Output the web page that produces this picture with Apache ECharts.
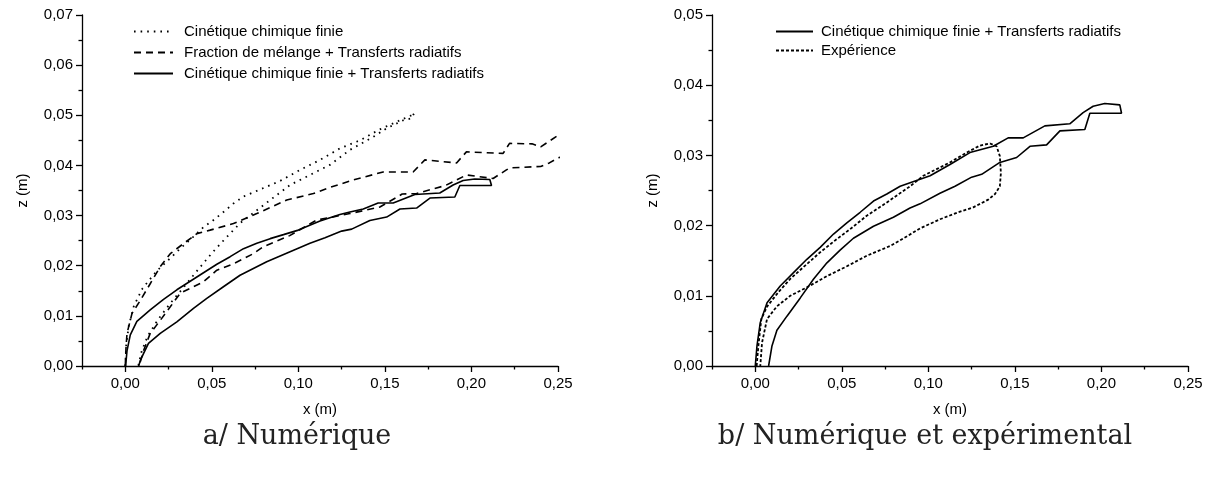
<!DOCTYPE html>
<html>
<head>
<meta charset="utf-8">
<script src="https://cdn.jsdelivr.net/npm/echarts@6/dist/echarts.min.js"></script>
<style>
html,body{margin:0;padding:0;background:#fff;}
#c{width:1213px;height:478px;}
</style>
</head>
<body>
<div id="c"></div>
<script>
// ---- tick labels ----
var xMajorTicks = [0, 0.05, 0.10, 0.15, 0.20, 0.25];
var xMinorTicks = [-0.025, 0.025, 0.075, 0.125, 0.175, 0.225];

// ---- legend names ----
var nameFinite = 'Cinétique chimique finie';
var nameMixing = 'Fraction de mélange + Transferts radiatifs';
var nameFiniteRad = 'Cinétique chimique finie + Transferts radiatifs';
var nameExp = 'Expérience';

// ---- a/ contour: finite chemistry + radiation [x (m), z (m)] ----
var finiteRadContourA = [
  [0.0002,0],[0.001,0.003],[0.0029,0.0062],[0.0067,0.0089],[0.0144,0.0112],[0.0221,0.0133],
  [0.0298,0.0152],[0.0375,0.0169],[0.0452,0.0186],[0.0529,0.0203],[0.0606,0.0218],[0.0683,0.0234],
  [0.076,0.0245],[0.0837,0.0254],[0.0914,0.0262],[0.100,0.0271],[0.1125,0.0289],[0.124,0.0302],
  [0.1298,0.0307],[0.1375,0.0313],[0.1461,0.0325],[0.1548,0.0325],[0.1673,0.0342],[0.1817,0.0345],
  [0.1894,0.0361],[0.1952,0.037],[0.2019,0.0373],[0.2106,0.0372],[0.2116,0.036],
  [0.1933,0.036],[0.1904,0.0337],[0.176,0.0335],[0.1683,0.0315],[0.1587,0.0313],[0.151,0.0297],
  [0.1413,0.029],[0.1308,0.0273],[0.125,0.0269],[0.1154,0.0256],[0.1067,0.0245],[0.0952,0.0228],
  [0.0817,0.0208],[0.0663,0.0181],[0.0567,0.0158],[0.0471,0.0135],[0.0394,0.0115],[0.0298,0.0088],
  [0.0202,0.0065],[0.0134,0.0045],[0.0106,0.0025],[0.0087,0.0011],[0.0077,0]
];

// ---- a/ contour: finite chemistry (no radiation) ----
var finiteContour = [
  [0,0],[0.0005,0.004],[0.002,0.008],[0.005,0.012],[0.01,0.0155],[0.0183,0.019],[0.026,0.0215],
  [0.0317,0.0234],[0.0394,0.0258],[0.0452,0.0277],[0.051,0.0291],[0.0567,0.0307],[0.0625,0.0324],
  [0.0683,0.0338],[0.0779,0.0352],[0.0894,0.0369],[0.101,0.0391],[0.1125,0.0411],[0.124,0.0434],
  [0.1356,0.045],[0.1471,0.0472],[0.1587,0.049],[0.1654,0.05],[0.167,0.0505],
  [0.1654,0.0494],[0.1606,0.049],[0.151,0.0474],[0.1433,0.0457],[0.1298,0.0431],[0.1182,0.0401],
  [0.1067,0.0381],[0.0952,0.0361],[0.0837,0.0331],[0.075,0.0308],[0.0664,0.0285],[0.058,0.0255],
  [0.05,0.0225],[0.042,0.0192],[0.034,0.0158],[0.026,0.0125],[0.019,0.0093],[0.013,0.006],
  [0.0095,0.003],[0.0075,0]
];

// ---- a/ contour: mixture fraction + radiation ----
var mixingContour = [
  [0,0],[0.0004,0.0035],[0.001,0.0065],[0.0039,0.0105],[0.0087,0.0131],[0.0144,0.0164],[0.0202,0.0198],
  [0.026,0.0224],[0.0336,0.0244],[0.0414,0.0264],[0.049,0.0271],[0.0625,0.0284],[0.076,0.0304],
  [0.0933,0.0331],[0.1087,0.0344],[0.1164,0.0354],[0.1317,0.0371],[0.149,0.0387],[0.1663,0.0387],
  [0.1731,0.0411],[0.1914,0.0405],[0.1971,0.0427],[0.2183,0.0424],[0.222,0.0444],[0.235,0.0443],
  [0.24,0.0437],[0.25,0.046],[0.26,0.047],
  [0.26,0.0425],[0.25,0.0415],[0.245,0.0405],[0.24,0.0398],[0.222,0.0395],[0.2202,0.0391],
  [0.2125,0.0374],[0.1971,0.0381],[0.185,0.036],[0.1683,0.0344],[0.16,0.0343],[0.1471,0.0317],
  [0.1298,0.0304],[0.1106,0.0291],[0.095,0.026],[0.0798,0.0238],[0.074,0.0224],[0.0625,0.0204],
  [0.0529,0.0191],[0.0452,0.0168],[0.0317,0.0145],[0.026,0.0118],[0.0202,0.0091],[0.0144,0.0065],
  [0.0105,0.003],[0.008,0]
];

// ---- b/ contour: finite chemistry + radiation ----
var finiteRadContourB = [
  [0,0],[0.001,0.0029],[0.0029,0.0062],[0.0068,0.009],[0.0144,0.0114],[0.0221,0.0133],
  [0.0298,0.0152],[0.0375,0.0169],[0.0452,0.0188],[0.0529,0.0204],[0.0606,0.0219],[0.0683,0.0235],
  [0.076,0.0245],[0.0837,0.0256],[0.101,0.0271],[0.1125,0.0287],[0.124,0.0304],[0.1375,0.0313],
  [0.1461,0.0325],[0.1548,0.0325],[0.1673,0.0342],[0.1817,0.0345],[0.1894,0.0361],[0.1952,0.037],
  [0.2019,0.0374],[0.2106,0.0372],[0.2116,0.036],
  [0.1933,0.036],[0.1904,0.0337],[0.176,0.0335],[0.1683,0.0315],[0.1587,0.0313],[0.151,0.0297],
  [0.1413,0.029],[0.1308,0.0273],[0.125,0.0269],[0.1154,0.0256],[0.1067,0.0246],[0.0952,0.0231],
  [0.0894,0.0225],[0.0798,0.0212],[0.0683,0.0199],[0.0567,0.0182],[0.049,0.0165],[0.0414,0.0147],
  [0.0337,0.0124],[0.026,0.0097],[0.0183,0.0071],[0.0125,0.0051],[0.0096,0.0028],[0.0077,0]
];

// ---- b/ contour: experiment ----
var expContour = [
  [0.0008,0],[0.0018,0.0029],[0.0035,0.0067],[0.0069,0.0085],[0.0133,0.0105],[0.0202,0.0124],
  [0.0288,0.0143],[0.0375,0.0162],[0.0462,0.0179],[0.0548,0.0195],[0.0644,0.0214],[0.076,0.0233],
  [0.0894,0.0256],[0.0971,0.0271],[0.1125,0.029],[0.1221,0.0304],[0.1298,0.0314],[0.1356,0.0317],
  [0.1394,0.0313],[0.1413,0.0299],[0.1419,0.0275],[0.1413,0.0256],[0.1385,0.0245],[0.1346,0.0237],
  [0.1259,0.0226],[0.1173,0.0219],[0.1067,0.0209],[0.0952,0.0196],[0.0837,0.0179],[0.0779,0.0171],
  [0.0644,0.0157],[0.0529,0.0142],[0.0414,0.0128],[0.0298,0.0112],[0.0202,0.01],[0.0125,0.0085],
  [0.0068,0.0067],[0.0039,0.0033],[0.0029,0]
];

var FONT = 'Liberation Sans, Arial, sans-serif';
var SERIF = 'DejaVu Serif, Liberation Serif, serif';
var fmt = function (v) { return v.toFixed(2).replace('.', ','); };

function mainX(grid) {
  return {
    type: 'value', gridIndex: grid, position: 'bottom', min: -0.025, max: 0.25, interval: 0.025,
    axisLine: {show: true, onZero: false, lineStyle: {color: '#000', width: 1.3}},
    axisTick: {show: true, inside: false, length: 6, customValues: xMajorTicks, lineStyle: {color: '#000', width: 1.3}},
    axisLabel: {show: true, customValues: xMajorTicks, formatter: fmt, color: '#000', fontFamily: FONT, fontSize: 15, margin: 10},
    splitLine: {show: false},
    name: 'x (m)', nameLocation: 'middle', nameGap: 36,
    nameTextStyle: {color: '#000', fontFamily: FONT, fontSize: 15}
  };
}
function minorX(grid) {
  return {
    type: 'value', gridIndex: grid, position: 'bottom', min: -0.025, max: 0.25, interval: 0.025,
    axisLine: {show: false},
    axisTick: {show: true, inside: false, length: 3.5, customValues: xMinorTicks, lineStyle: {color: '#000', width: 1.3}},
    axisLabel: {show: false},
    splitLine: {show: false}
  };
}
function mainY(grid, max) {
  return {
    type: 'value', gridIndex: grid, min: 0, max: max, interval: 0.01,
    axisLine: {show: true, onZero: false, lineStyle: {color: '#000', width: 1.3}},
    axisTick: {show: true, inside: false, length: 6, lineStyle: {color: '#000', width: 1.3}},
    minorTick: {show: true, splitNumber: 2, length: 3.5, lineStyle: {color: '#000', width: 1.3}},
    axisLabel: {formatter: fmt, color: '#000', fontFamily: FONT, fontSize: 15, margin: 9},
    splitLine: {show: false}, minorSplitLine: {show: false},
    name: 'z (m)', nameLocation: 'middle', nameGap: 52, nameRotate: 90,
    nameTextStyle: {color: '#000', fontFamily: FONT, fontSize: 15}
  };
}
function contour(name, data, xi, yi, type, width) {
  return {
    name: name, type: 'line', xAxisIndex: xi, yAxisIndex: yi, data: data,
    showSymbol: false, symbol: 'none', smooth: false, clip: true, animation: false,
    lineStyle: {color: '#000', width: width, type: type},
    itemStyle: {color: '#000'}
  };
}

var chart = echarts.init(document.getElementById('c'), null, {renderer: 'canvas'});
chart.setOption({
  backgroundColor: '#fff',
  animation: false,
  grid: [
    {left: 82, top: 15, width: 476, height: 351},
    {left: 712, top: 15, width: 476, height: 351}
  ],
  xAxis: [mainX(0), minorX(0), mainX(1), minorX(1)],
  yAxis: [mainY(0, 0.07), mainY(1, 0.05)],
  legend: [
    {
      orient: 'vertical', left: 133, top: 24, padding: 0, itemWidth: 39, itemHeight: 14, itemGap: 6,
      data: [nameFinite, nameMixing, nameFiniteRad],
      itemStyle: {opacity: 0, borderWidth: 0},
      textStyle: {color: '#000', fontFamily: FONT, fontSize: 15, padding: [0, 0, 0, 6]},
      selectedMode: false
    },
    {
      orient: 'vertical', left: 775, top: 24, padding: 0, itemWidth: 37, itemHeight: 14, itemGap: 4,
      data: [nameFiniteRad + ' ', nameExp],
      itemStyle: {opacity: 0, borderWidth: 0},
      textStyle: {color: '#000', fontFamily: FONT, fontSize: 15, padding: [0, 0, 0, 3]},
      selectedMode: false
    }
  ],
  title: [
    {text: 'a/ Numérique', left: 292, top: 418, textAlign: 'center',
     textStyle: {fontFamily: SERIF, fontWeight: 'normal', fontSize: 27, color: '#222'}},
    {text: 'b/ Numérique et expérimental', left: 920, top: 418, textAlign: 'center',
     textStyle: {fontFamily: SERIF, fontWeight: 'normal', fontSize: 27, color: '#222'}}
  ],
  series: [
    contour(nameFinite, finiteContour, 0, 0, [1.6, 5], 1.8),
    contour(nameMixing, mixingContour, 0, 0, [7, 5], 1.6),
    contour(nameFiniteRad, finiteRadContourA, 0, 0, 'solid', 1.6),
    contour(nameFiniteRad + ' ', finiteRadContourB, 2, 1, 'solid', 1.6),
    contour(nameExp, expContour, 2, 1, [3, 2], 1.8)
  ]
});
</script>
</body>
</html>
